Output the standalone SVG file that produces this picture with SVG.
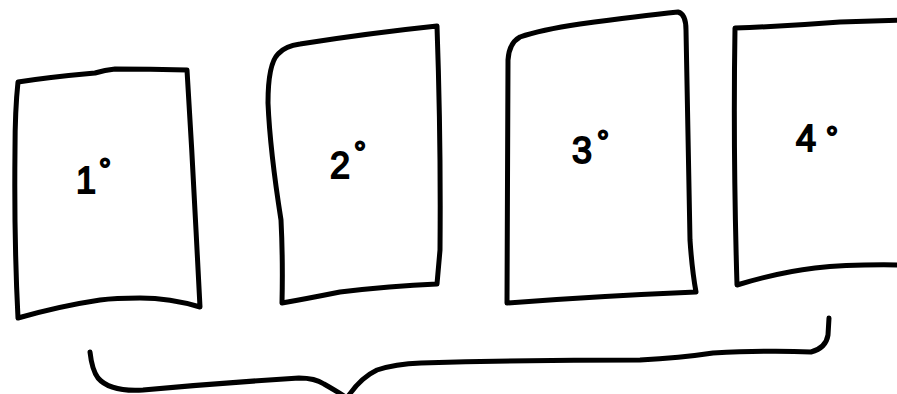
<svg xmlns="http://www.w3.org/2000/svg" width="897" height="394" viewBox="0 0 897 394">
<style>
.ink{fill:none;stroke:#000;stroke-width:5;stroke-linecap:round;stroke-linejoin:round}
.lbl{font-family:"Liberation Sans","DejaVu Sans",sans-serif;font-size:36px;fill:#000;stroke:#000;stroke-width:1.8}
.deg{font-size:30px}
</style>
<rect width="897" height="394" fill="#fff"/>
<g id="card1">
<path class="ink" d="M18,82 Q50,77 95,73 Q105,70 115,69 Q150,69 187,70 Q192,150 196,230 Q198,270 200,307 Q170,298 140,298 Q115,298 100,300 Q60,306 18,318 Q14,240 15,150 Q15,110 18,82 Z"/>
<text class="lbl" x="76" y="193">1<tspan class="deg" dx="3" dy="-14">°</tspan></text>
</g>
<g id="card2">
<path class="ink" d="M278,54 Q285,46 300,44 Q370,33 437,26 Q441,140 440,250 L437,284 Q390,286 340,292 Q305,299 282,303 Q283,260 281,220 Q270,150 268,103 Q268,64 278,54 Z"/>
<text class="lbl" x="330" y="178">2<tspan class="deg" dx="4" dy="-16">°</tspan></text>
</g>
<g id="card3">
<path class="ink" d="M520,37 Q540,30 580,24 Q640,16 678,12 Q686,14 686,30 Q688,150 690,240 Q692,270 696,292 Q600,296 507,303 Q508,180 508,60 Q509,43 520,37 Z"/>
<text class="lbl" x="572" y="163">3<tspan class="deg" dx="5" dy="-12">°</tspan></text>
</g>
<g id="card4">
<path class="ink" d="M905,20 L840,22 Q790,26 735,28 Q733,150 737,285 Q780,272 815,268 Q850,264 905,265"/>
<text class="lbl" x="796" y="151">4<tspan class="deg" dx="10" dy="-4">°</tspan></text>
</g>
<g id="connectors">
<path class="ink" d="M90,352 Q92,370 98,378 Q110,392 143,390 Q220,383 299,378 Q315,378 324,384 Q338,392 347,398 Q360,378 377,370 Q395,364 421,363 Q530,360 640,360 Q680,358 713,353 Q770,350 811,352 Q826,348 828,335 L829,318"/>
</g>
</svg>
